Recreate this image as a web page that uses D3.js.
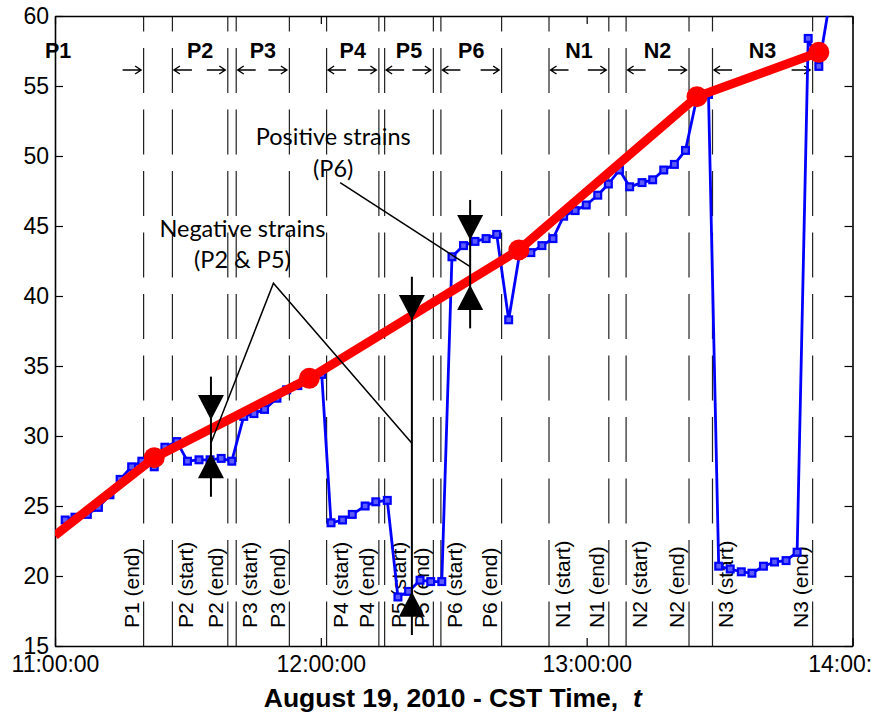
<!DOCTYPE html>
<html>
<head>
<meta charset="utf-8">
<script src="https://cdn.jsdelivr.net/npm/d3@7"></script>
<style>
  html, body { margin: 0; padding: 0; background: #fff; }
  svg { display: block; }
</style>
</head>
<body>
<svg id="chart" width="872" height="715"></svg>
<script>
// ---------------- DATA ----------------
// time in minutes after 11:00:00 CST, August 19, 2010
const blueT = [2.3, 4.5, 7.3, 9.8, 12.4, 14.7, 17.3, 19.6, 22.4, 24.8, 27.5, 29.9, 32.5, 35.0, 37.5, 39.9,
  42.6, 44.9, 47.3, 50.1, 52.3, 54.8, 57.4, 60.2, 62.3, 64.9, 67.1, 70.0, 72.4, 75.0,
  77.4, 79.8, 82.4, 84.8, 87.3, 89.6, 92.2, 94.8, 97.3, 99.7, 102.4, 104.9, 107.4, 109.9,
  112.4, 114.8, 117.4, 119.9, 122.5, 124.9, 127.4, 129.7, 132.5, 134.9, 137.4, 139.8, 142.3,
  144.9, 147.5, 149.8, 152.4, 154.9, 157.3, 159.9, 162.4, 165.0, 167.5, 170.0, 172.4, 174.9];
const blueV = [24.0, 24.2, 24.4, 24.9, 25.8, 26.9, 27.8, 28.2, 27.8, 29.2, 29.6, 28.2, 28.3, 28.3, 28.4, 28.2,
  31.4, 31.6, 31.9, 32.7, 33.3, 33.6, 34.1, 34.4, 23.8, 24.0, 24.4, 25.0, 25.3, 25.4,
  18.5, 18.9, 19.7, 19.6, 19.6, 42.8, 43.6, 43.9, 44.1, 44.4, 38.3, 43.1, 43.1, 43.6,
  44.1, 45.7, 46.1, 46.5, 47.2, 48.0, 49.0, 47.8, 48.1, 48.3, 49.0, 49.4, 50.4,
  54.2, 54.4, 20.7, 20.5, 20.3, 20.2, 20.7, 21.0, 21.1, 21.7, 58.4, 56.4, 61.1];

const redT = [0, 22.4, 57.4, 104.7, 144.9, 172.4];
const redV = [22.9, 28.45, 34.12, 43.29, 54.24, 57.41];
const redMarked = [false, true, true, true, true, true];

const regionNames = ["P1", "P2", "P3", "P4", "P5", "P6", "N1", "N2", "N3"];
const regionStart = [-18.6, 26.5, 40.9, 61.3, 74.4, 87.1, 111.5, 128.9, 148.4];
const regionEnd   = [20.0, 39.0, 52.9, 73.1, 85.4, 100.8, 125.0, 143.1, 171.0];

const yTicks = [15, 20, 25, 30, 35, 40, 45, 50, 55, 60];
const xTickHours = [11, 12, 13, 14];
const xTitle = "August 19, 2010 - CST Time,";
const xTitleVar = "t";

// strain indicator arrows (black triangles)
const strainT      = [35.2, 80.55, 93.7];
const strainUpTip  = [31.14, 38.29, 44.0];
const strainLowTip = [28.76, 18.88, 40.79];
const strainTop    = [34.24, 41.38, 46.86];
const strainBottom = [25.66, 15.79, 37.69];

// annotation texts and leader lines
const noteLines = [["Negative strains", "(P2 & P5)"], ["Positive strains", "(P6)"]];
const noteT = [42.3, 62.8];
const noteV = [[44.19, 41.98], [50.79, 48.52]];
const negLeaderT = [35.2, 49.3, 80.55];
const negLeaderV = [29.5, 40.91, 29.48];
const posLeaderT = [64.36, 93.7];
const posLeaderV = [48.09, 42.09];

// ---------------- CHART ----------------
const svg = d3.select("#chart");
const M = { left: 55, top: 16, right: 852.5, bottom: 646 };
const base = new Date(2010, 7, 19, 11, 0, 0);
const toDate = m => new Date(base.getTime() + m * 60000);

const x = d3.scaleTime()
  .domain([toDate(0), toDate(180)])
  .range([M.left, M.right]);
const y = d3.scaleLinear().domain([15, 60]).range([M.bottom, M.top]);
const xm = m => x(toDate(m));

svg.append("defs").append("clipPath").attr("id", "clip")
  .append("rect").attr("x", M.left).attr("y", M.top)
  .attr("width", M.right - M.left).attr("height", M.bottom - M.top);

const FONT = "'Liberation Sans', Arial, Helvetica, sans-serif";

// vertical dashed region boundary lines
const bounds = [];
regionNames.forEach((n, i) => {
  if (regionStart[i] >= 0) bounds.push({ t: regionStart[i], kind: "start", name: n });
  if (regionEnd[i] <= 180) bounds.push({ t: regionEnd[i], kind: "end", name: n });
});

svg.append("g").selectAll("line").data(bounds).join("line")
  .attr("x1", d => xm(d.t)).attr("x2", d => xm(d.t))
  .attr("y1", M.top).attr("y2", M.bottom)
  .attr("stroke", "#222").attr("stroke-width", 1.2)
  .attr("stroke-dasharray", "45,16.5").attr("stroke-dashoffset", 29.5);

// rotated boundary labels
svg.append("g").selectAll("text").data(bounds).join("text")
  .attr("transform", d => `translate(${xm(d.t) + (d.kind === "start" ? 13.5 : -12.3)},${M.bottom - 18}) rotate(-90)`)
  .attr("dominant-baseline", "central")
  .attr("text-anchor", "start")
  .attr("font-family", FONT).attr("font-size", 21)
  .attr("fill", "#000")
  .text(d => `${d.name} (${d.kind})`);

// region names
const regionMid = regionNames.map((n, i) => (regionStart[i] + regionEnd[i]) / 2);
svg.append("g").selectAll("text").data(regionNames).join("text")
  .attr("x", (d, i) => xm(regionMid[i]))
  .attr("y", 57.5)
  .attr("text-anchor", "middle")
  .attr("font-family", FONT).attr("font-weight", "bold").attr("font-size", 21.5)
  .text(d => d);

// region arrows
const arrows = [];
regionNames.forEach((n, i) => {
  if (regionStart[i] >= 0) arrows.push({ from: xm(regionStart[i]) + 19.5, to: xm(regionStart[i]) + 1.5 });
  if (regionEnd[i] <= 180) arrows.push({ from: xm(regionEnd[i]) - 21, to: xm(regionEnd[i]) - 2.5 });
});
const ay = 70;
const ag = svg.append("g").attr("stroke", "#000").attr("stroke-width", 1.4).attr("fill", "none");
arrows.forEach(a => {
  const dir = Math.sign(a.to - a.from);
  ag.append("path").attr("d",
    `M${a.from},${ay}L${a.to},${ay}M${a.to - dir * 6},${ay - 4}L${a.to},${ay}L${a.to - dir * 6},${ay + 4}`);
});

// axes
const axG = svg.append("g");
const yAxis = d3.axisLeft(y).tickValues(yTicks).tickSizeInner(-8).tickSizeOuter(0).tickPadding(6);
const yAxisR = d3.axisRight(y).tickValues(yTicks).tickSizeInner(-8).tickSizeOuter(0).tickFormat("");
const xTickDates = xTickHours.map(h => new Date(2010, 7, 19, h, 0, 0));
const xAxis = d3.axisBottom(x).tickValues(xTickDates).tickSizeInner(-8).tickSizeOuter(0)
  .tickPadding(10).tickFormat(d3.timeFormat("%H:%M:%S"));
const xAxisT = d3.axisTop(x).tickValues(xTickDates).tickSizeInner(-8).tickSizeOuter(0).tickFormat("");

function styleAxis(g) {
  g.attr("font-family", FONT).attr("font-size", 23);
  g.selectAll("text").attr("fill", "#000");
  g.selectAll("line").attr("stroke", "#000").attr("stroke-width", 1.2);
  g.select(".domain").attr("stroke", "#000").attr("stroke-width", 1.6);
}
axG.append("g").attr("transform", `translate(${M.left},0)`).call(yAxis).call(styleAxis);
axG.append("g").attr("transform", `translate(${M.right},0)`).call(yAxisR).call(styleAxis);
axG.append("g").attr("transform", `translate(0,${M.bottom})`).call(xAxis).call(styleAxis);
axG.append("g").attr("transform", `translate(0,${M.top})`).call(xAxisT).call(styleAxis);

// x title
const tt = svg.append("text")
  .attr("x", (M.left + M.right) / 2 - 1).attr("y", 706.5)
  .attr("text-anchor", "middle")
  .attr("font-family", FONT).attr("font-weight", "bold").attr("font-size", 26.5);
tt.append("tspan").text(xTitle + "\u00a0\u00a0");
tt.append("tspan").attr("font-style", "italic").text(xTitleVar);

// data layer
const plot = svg.append("g").attr("clip-path", "url(#clip)");
const blue = blueT.map((t, i) => [t, blueV[i]]);
const lineGen = d3.line().x(d => xm(d[0])).y(d => y(d[1]));
plot.append("path").datum(blue).attr("d", lineGen)
  .attr("fill", "none").attr("stroke", "#0000ff").attr("stroke-width", 2.8)
  .attr("stroke-linejoin", "round");
plot.append("g").selectAll("rect").data(blue).join("rect")
  .attr("x", d => xm(d[0]) - 3.4).attr("y", d => y(d[1]) - 3.4)
  .attr("width", 6.8).attr("height", 6.8)
  .attr("fill", "#5c5cff").attr("stroke", "#0000ff").attr("stroke-width", 2.2);

const red = redT.map((t, i) => [t, redV[i], redMarked[i]]);
plot.append("path").datum(red).attr("d", lineGen)
  .attr("fill", "none").attr("stroke", "#ff0000").attr("stroke-width", 9)
  .attr("stroke-linejoin", "round");
plot.append("g").selectAll("circle").data(red.filter(d => d[2])).join("circle")
  .attr("cx", d => xm(d[0])).attr("cy", d => y(d[1])).attr("r", 10.5)
  .attr("fill", "#ff0000");

// annotations
const ann = svg.append("g");
const ptLine = d3.line().x(d => xm(d[0])).y(d => y(d[1]));
ann.append("path").datum(negLeaderT.map((t, i) => [t, negLeaderV[i]])).attr("d", ptLine)
  .attr("fill", "none").attr("stroke", "#000").attr("stroke-width", 1.5);
ann.append("path").datum(posLeaderT.map((t, i) => [t, posLeaderV[i]])).attr("d", ptLine)
  .attr("fill", "none").attr("stroke", "#000").attr("stroke-width", 1.5);

strainT.forEach((t, i) => {
  const cx = xm(t);
  ann.append("line").attr("x1", cx).attr("x2", cx)
    .attr("y1", y(strainTop[i])).attr("y2", y(strainBottom[i]))
    .attr("stroke", "#000").attr("stroke-width", 2);
  const ut = y(strainUpTip[i]), lt = y(strainLowTip[i]);
  ann.append("path").attr("d", `M${cx - 13},${ut - 25}L${cx + 13},${ut - 25}L${cx},${ut}Z`).attr("fill", "#000");
  ann.append("path").attr("d", `M${cx - 13},${lt + 25}L${cx + 13},${lt + 25}L${cx},${lt}Z`).attr("fill", "#000");
});

noteLines.forEach((lines, i) => {
  lines.forEach((s, j) => {
    ann.append("text").attr("x", xm(noteT[i])).attr("y", y(noteV[i][j]))
      .attr("text-anchor", "middle")
      .attr("font-family", "Lato, 'Open Sans', sans-serif").attr("font-size", 23.5)
      .attr("fill", "#000").text(s);
  });
});
</script>
</body>
</html>
